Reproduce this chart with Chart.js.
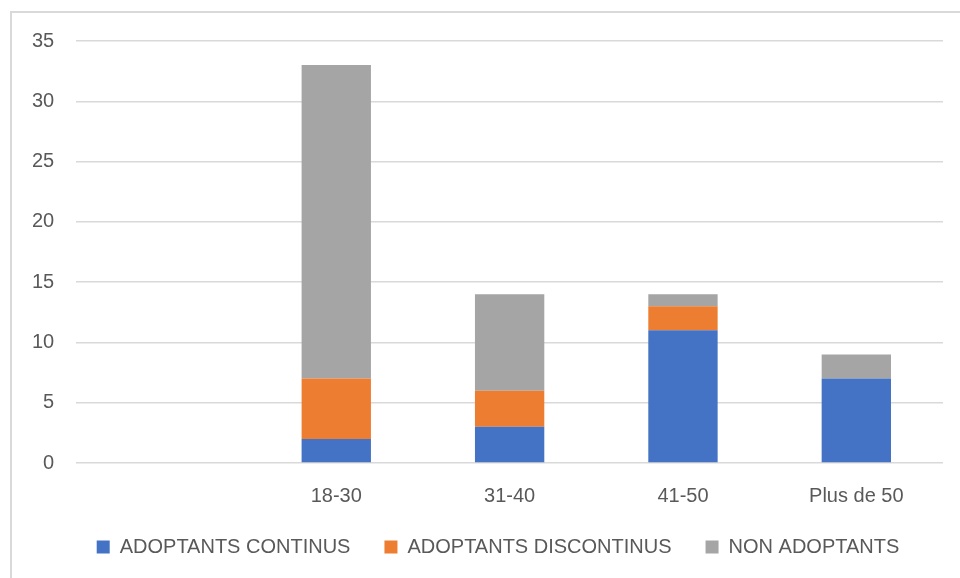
<!DOCTYPE html>
<html>
<head>
<meta charset="utf-8">
<script src="https://cdn.jsdelivr.net/npm/chart.js@4/dist/chart.umd.min.js"></script>
<style>
  html, body { margin: 0; padding: 0; background: #ffffff; }
  #wrap { position: relative; width: 960px; height: 578px; overflow: hidden; }
  #frame {
    position: absolute; left: 10px; top: 11px; width: 1000px; height: 620px;
    border-left: 2px solid #d9d9d9; border-top: 2px solid #d9d9d9;
  }
  canvas { position: absolute; left: 0; top: 0; }
</style>
</head>
<body>
<div id="wrap">
  <div id="frame"></div>
  <canvas id="chart" width="960" height="578"></canvas>
</div>
<script>
// Age groups (the first slot is left blank)
const categories = ['', '18-30', '31-40', '41-50', 'Plus de 50'];

// Counts per age group
const adoptantsContinus    = [null, 2, 3, 11, 7];
const adoptantsDiscontinus = [null, 5, 3, 2, 0];
const nonAdoptants         = [null, 26, 8, 1, 2];

const seriesNames = ['ADOPTANTS CONTINUS', 'ADOPTANTS DISCONTINUS', 'NON ADOPTANTS'];
const yTicks = [0, 5, 10, 15, 20, 25, 30, 35];

const FONT = "'Liberation Sans', Arial, sans-serif";
const TEXT = '#595959';

// Nudge the legend row: a little to the right and further down the page
const legendOffset = {
  id: 'legendOffset',
  afterLayout(chart, args, opts) {
    const lg = chart.legend;
    if (!lg) return;
    lg.left += opts.dx; lg.right += opts.dx;
    lg.top += opts.dy;
    lg.bottom = chart.height;
    lg.width = lg.right - lg.left;
    lg.height = lg.bottom - lg.top;
  }
};

new Chart(document.getElementById('chart'), {
  type: 'bar',
  data: {
    labels: categories,
    datasets: [
      { label: seriesNames[0], data: adoptantsContinus,    backgroundColor: '#4472C4' },
      { label: seriesNames[1], data: adoptantsDiscontinus, backgroundColor: '#ED7D31' },
      { label: seriesNames[2], data: nonAdoptants,         backgroundColor: '#A5A5A5' }
    ]
  },
  plugins: [legendOffset],
  options: {
    responsive: false,
    animation: false,
    events: [],
    layout: { padding: { left: 10, right: 17, top: 41, bottom: 27 } },
    datasets: { bar: { categoryPercentage: 1, barPercentage: 0.4 } },
    scales: {
      x: {
        stacked: true,
        grid: { display: false },
        border: { display: false },
        ticks: { color: TEXT, font: { family: FONT, size: 20 }, padding: 13 }
      },
      y: {
        stacked: true,
        min: 0,
        max: 35,
        afterBuildTicks: (axis) => { axis.ticks = yTicks.map(v => ({ value: v })); },
        grid: { color: '#d9d9d9', lineWidth: 1.5, drawTicks: false },
        border: { display: false },
        ticks: { color: TEXT, font: { family: FONT, size: 20 }, padding: 22 }
      }
    },
    plugins: {
      tooltip: { enabled: false },
      legendOffset: { dx: 21.5, dy: -18 },
      legend: {
        position: 'bottom',
        maxHeight: 30,
        labels: {
          color: TEXT,
          font: { family: FONT, size: 20 },
          boxWidth: 13,
          boxHeight: 13,
          padding: 34
        }
      }
    }
  }
});
</script>
</body>
</html>
